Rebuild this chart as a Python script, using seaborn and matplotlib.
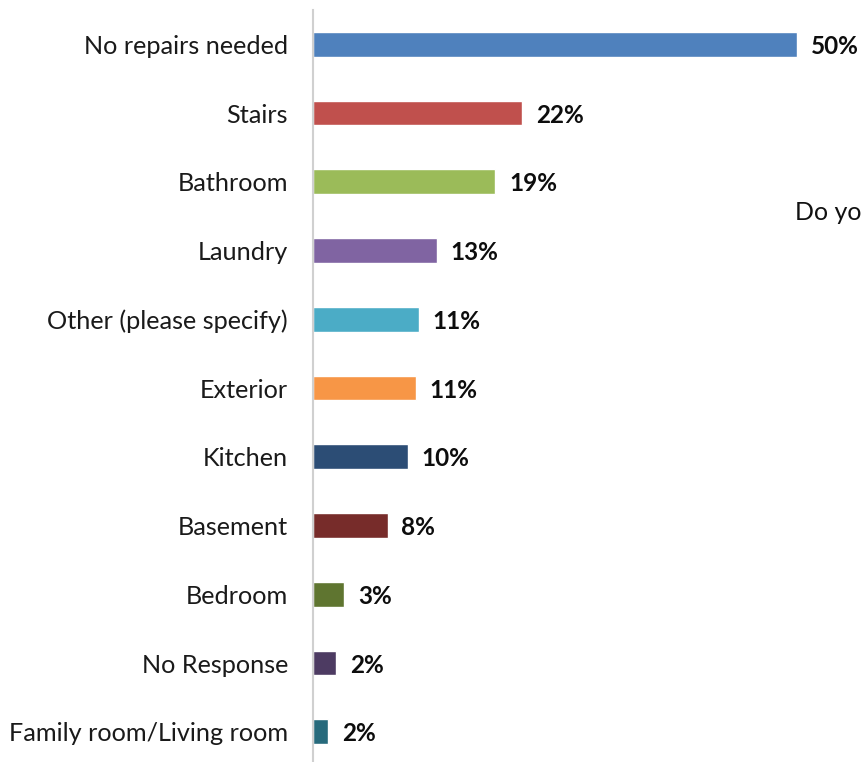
import matplotlib
matplotlib.use("Agg")
import matplotlib.pyplot as plt
import seaborn as sns
import pandas as pd

categories = [
    "No repairs needed", "Stairs", "Bathroom", "Laundry",
    "Other (please specify)", "Exterior", "Kitchen", "Basement",
    "Bedroom", "No Response", "Family room/Living room",
]
shares = [50.0, 21.6, 18.8, 12.8, 10.9, 10.6, 9.8, 7.7, 3.2, 2.4, 1.6]
colors = [
    "#4F81BD", "#C0504D", "#9BBB59", "#8064A2", "#4BACC6", "#F79646",
    "#2C4D75", "#772C2A", "#5F7530", "#4D3B62", "#276A7C",
]

df = pd.DataFrame({"category": categories, "share": shares})

sns.set_theme(style="white")
plt.rcParams["font.family"] = ["Lato", "DejaVu Sans"]

fig = plt.figure(figsize=(8.61, 7.62), dpi=100)
ax = fig.add_axes([313 / 861, 0.0, 1 - 313 / 861, (762 - 10) / 762])

sns.barplot(
    data=df, x="share", y="category", hue="category", palette=colors,
    order=categories, hue_order=categories, orient="h", width=0.36,
    legend=False, ax=ax, saturation=1,
)

for cont, val in zip(ax.containers, shares):
    labels = ax.bar_label(cont, labels=[f"{val:.0f}%"], padding=10,
                          fontsize=17.5, fontweight="bold", color="#0d0d0d")
    for t in labels:
        x0, y0 = t.xyann
        t.xyann = (x0, y0 - 1.5)

ax.set_xlim(0, 56.6)
ax.set_ylim(10.44, -0.5)
ax.set_xlabel("")
ax.set_ylabel("")
ax.set_xticks([])
ax.tick_params(axis="y", length=0, pad=18, labelsize=18.2, labelcolor="#1a1a1a")
for side in ("top", "right", "bottom"):
    ax.spines[side].set_visible(False)
ax.spines["left"].set_color("#D0D0D0")
ax.spines["left"].set_linewidth(1.5)

fig.text(795 / 861, 1 - 213 / 762, "Do you", fontsize=18, va="center",
         ha="left", color="#111111")

fig.savefig("out.png", dpi=100)
